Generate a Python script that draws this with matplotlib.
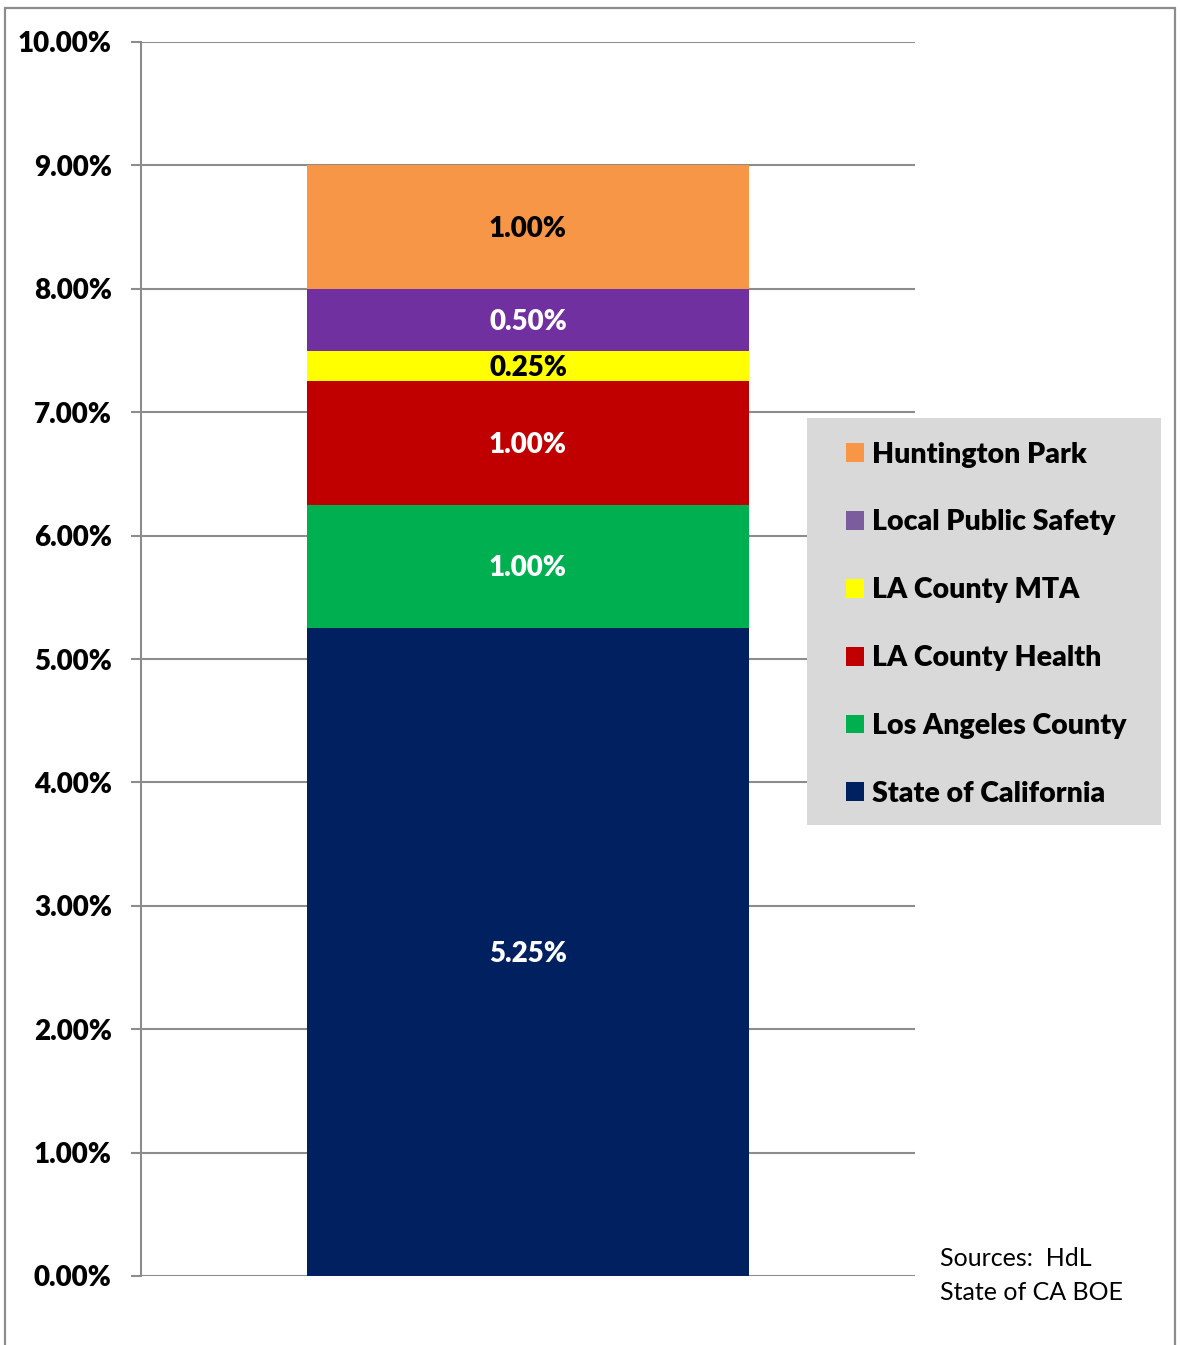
import matplotlib
matplotlib.use("Agg")
import matplotlib.pyplot as plt
from matplotlib.patches import Patch, Rectangle
from matplotlib.ticker import FuncFormatter, MultipleLocator

plt.rcParams['font.family'] = ['Lato', 'DejaVu Sans']

# stacked segments, bottom to top (percent)
segments = ["State of California", "Los Angeles County", "LA County Health",
            "LA County MTA", "Local Public Safety", "Huntington Park"]
rates = [5.25, 1.00, 1.00, 0.25, 0.50, 1.00]
bar_colors = ["#002060", "#00B050", "#C00000", "#FFFF00", "#7030A0", "#F79646"]
legend_colors = ["#002060", "#00B050", "#C00000", "#FFFF00", "#7B5C9C", "#F79646"]
label_colors = ["white", "white", "white", "black", "white", "black"]
source_lines = ["Sources:  HdL", "State of CA BOE"]

BOLD = 800

fig = plt.figure(figsize=(11.8, 13.45), dpi=100)
W, H = 1180, 1345

# outer chart border (bottom edge runs off the image)
fig.patches.append(Rectangle((5 / W, -0.01), 1170 / W, 1 - 8 / H + 0.01,
                             transform=fig.transFigure, fill=False,
                             edgecolor="#8C8C8C", linewidth=1.6))

ax = fig.add_axes([141 / W, 69 / H, 774 / W, 1234 / H])
ax.set_xlim(0, 1)
ax.set_ylim(0, 10)

bottom = 0.0
for name, val, col, tcol in zip(segments, rates, bar_colors, label_colors):
    ax.bar(0.5, val, width=0.572, bottom=bottom, color=col, zorder=3)
    ax.text(0.5, bottom + val / 2 - 0.015, f"{val:.2f}%", ha="center", va="center",
            color=tcol, fontsize=20, fontweight=BOLD, zorder=4)
    bottom += val

ax.yaxis.set_major_locator(MultipleLocator(1))
ax.yaxis.set_major_formatter(FuncFormatter(lambda v, p: f"{v:.2f}%"))
ax.grid(axis="y", color="#8C8C8C", linewidth=1.5, zorder=1)
ax.set_xticks([])
for s in ["top", "right", "bottom"]:
    ax.spines[s].set_visible(False)
ax.spines["left"].set_color("#8C8C8C")
ax.spines["left"].set_linewidth(1.5)
ax.tick_params(axis="y", length=7, width=1.5, color="#8C8C8C", pad=14,
               labelsize=20)
for t in ax.get_yticklabels():
    t.set_fontweight(BOLD)

# legend panel
fig.patches.append(Rectangle((807 / W, 1 - 825 / H), 354 / W, 407 / H,
                             transform=fig.transFigure, facecolor="#D9D9D9",
                             edgecolor="none", zorder=0))
handles = [Patch(facecolor=c, edgecolor="none") for c in legend_colors[::-1]]
fig.legend(handles, segments[::-1], loc="upper left",
           bbox_to_anchor=(820 / W, 1 - 416 / H), frameon=False,
           prop={"size": 20.5, "weight": BOLD}, labelspacing=1.47,
           handlelength=0.64, handleheight=0.64, handletextpad=0.3)

for i, line in enumerate(source_lines):
    fig.text(940 / W, 1 - (1258 + 35 * i) / H, line, fontsize=18,
             ha="left", va="center")

fig.savefig("out.png", dpi=100)
